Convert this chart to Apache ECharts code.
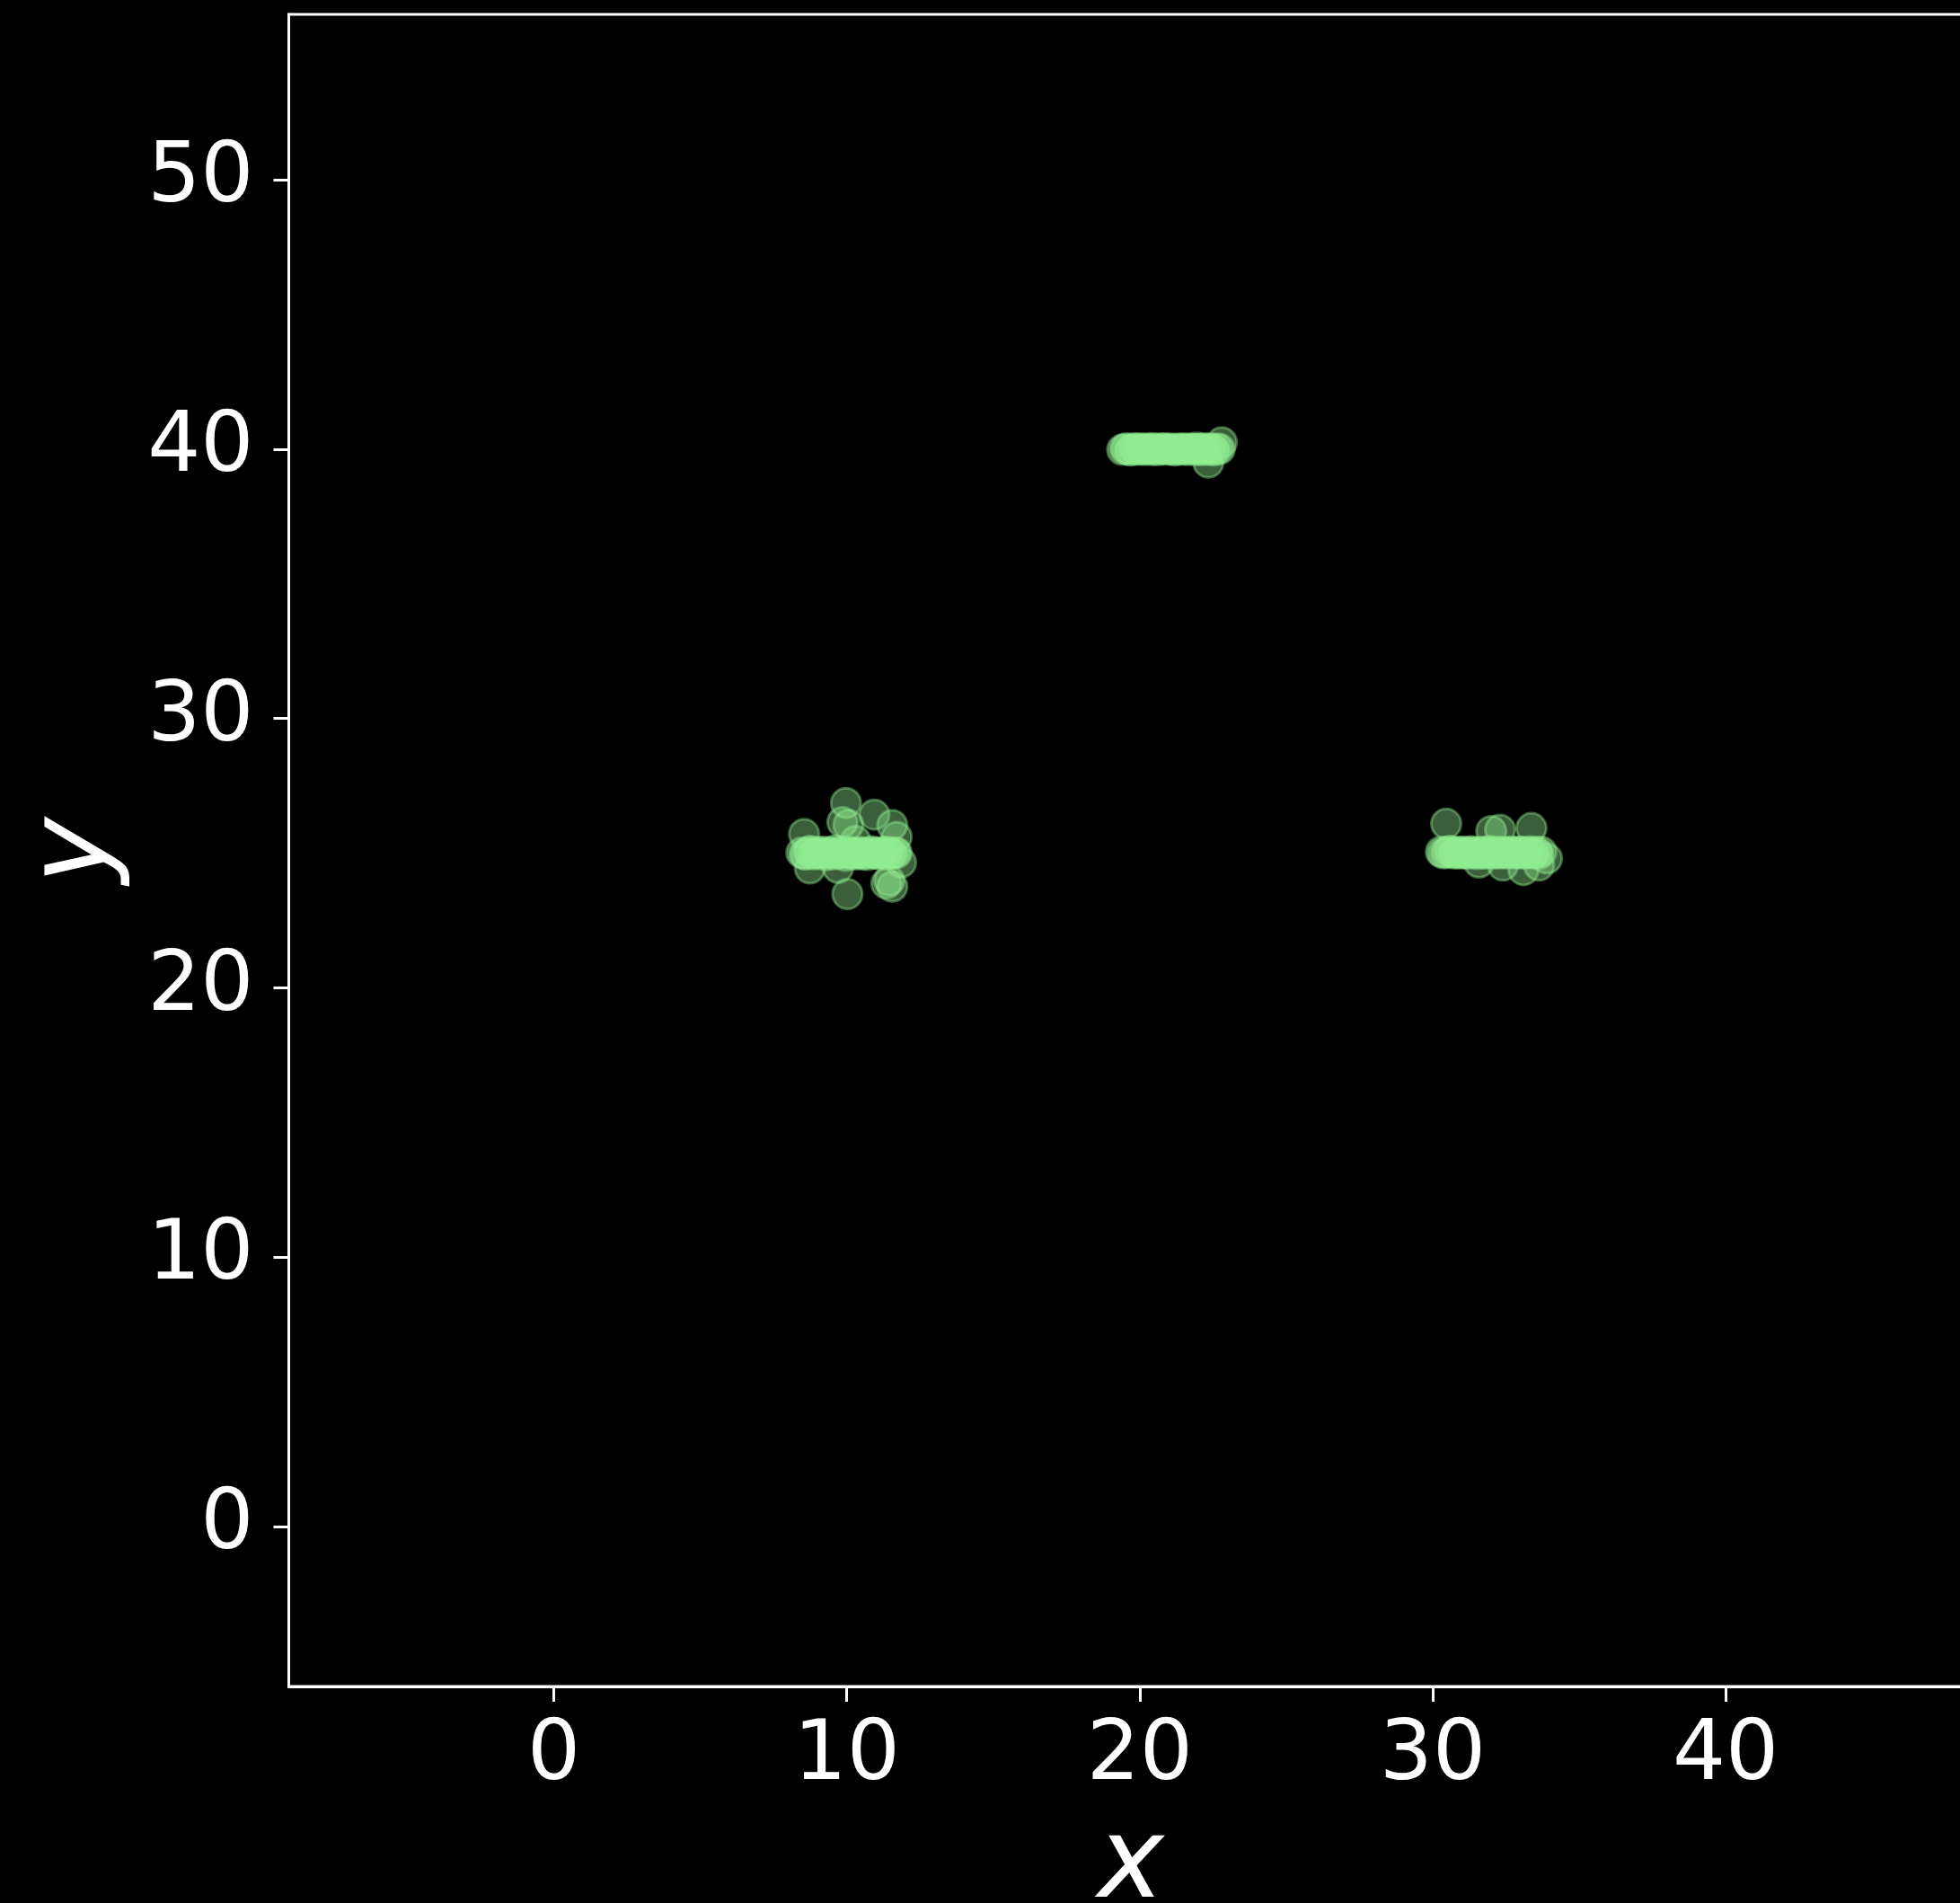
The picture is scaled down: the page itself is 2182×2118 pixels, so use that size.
<!DOCTYPE html>
<html>
<head>
<meta charset="utf-8">
<title>Clusters</title>
<script src="https://cdn.jsdelivr.net/npm/echarts@6/dist/echarts.min.js"></script>
<style>
  html, body { margin: 0; padding: 0; background: #000; }
  #chart { width: 2182px; height: 2118px; }
</style>
</head>
<body>
<div id="chart"></div>
<script>
// Axis ticks
const xTicks = [0, 10, 20, 30, 40];
const yTicks = [0, 10, 20, 30, 40, 50];
const xRange = [-9.05, 48.43];
const yRange = [-5.94, 56.14];

// Cluster around (10, 25)
const clusterA = [
  [8.45, 25.02], [8.55, 24.97], [8.6, 24.95], [8.7, 25.03], [8.75, 25.08], [8.85, 24.96], [8.9, 25.0], [9.0, 25.04], [9.05, 24.97],
  [9.15, 25.01], [9.2, 25.05], [9.3, 24.92], [9.4, 25.0], [9.45, 25.03], [9.55, 24.96], [9.6, 25.1], [9.7, 24.98],
  [9.8, 25.04], [9.85, 25.0], [9.95, 24.9], [10.0, 25.02], [10.05, 25.06], [10.15, 24.97], [10.2, 25.0], [10.3, 24.95],
  [10.4, 25.01], [10.45, 25.04], [10.55, 24.96], [10.6, 25.0], [10.7, 24.93], [10.8, 25.03], [10.85, 25.07], [10.95, 24.98], [11.0, 25.0],
  [11.1, 24.96], [11.2, 25.04], [11.25, 25.02], [11.35, 24.97], [11.4, 25.05], [11.5, 25.0], [11.55, 24.98], [11.65, 25.03], [11.7, 25.0],
  [9.97, 26.86], [10.94, 26.43], [11.55, 26.04], [9.85, 26.15], [10.05, 26.05],
  [8.54, 25.71], [10.02, 23.48], [8.74, 24.43], [9.7, 24.45], [11.45, 23.98],
  [11.35, 23.87], [11.55, 23.76], [11.85, 24.65], [11.7, 25.6], [10.3, 25.45]
];

// Cluster around (21, 40)
const clusterB = [
  [19.4, 39.98], [19.5, 40.01], [19.55, 40.02], [19.65, 39.97], [19.7, 39.95], [19.8, 40.03], [19.85, 40.0], [19.95, 39.98], [20.0, 40.03],
  [20.1, 40.0], [20.15, 39.97], [20.25, 40.02], [20.3, 40.0], [20.4, 39.97], [20.45, 40.04], [20.55, 40.0], [20.6, 39.96], [20.7, 40.02], [20.75, 40.0],
  [20.85, 40.03], [20.9, 39.98], [21.0, 40.0], [21.05, 40.02], [21.15, 39.98], [21.2, 39.95], [21.3, 40.02], [21.35, 40.0], [21.45, 39.98], [21.5, 40.03],
  [21.6, 40.0], [21.65, 39.97], [21.75, 40.02], [21.8, 40.0], [21.9, 39.97], [21.95, 40.05], [22.05, 40.0], [22.1, 39.96], [22.2, 40.03], [22.25, 40.0],
  [22.35, 39.97], [22.4, 40.02], [22.5, 40.0], [22.55, 39.95], [22.65, 40.02], [22.73, 40.0], [22.34, 39.5], [22.8, 40.25]
];

// Cluster around (32, 25)
const clusterC = [
  [30.28, 25.05], [30.35, 25.0], [30.45, 25.0], [30.52, 25.06], [30.6, 25.08], [30.7, 24.99], [30.75, 25.02], [30.85, 25.05], [30.9, 24.98],
  [31.0, 25.02], [31.05, 25.06], [31.15, 24.98], [31.2, 25.0], [31.3, 25.07], [31.35, 25.04], [31.45, 25.0], [31.5, 24.97], [31.6, 25.03], [31.65, 25.05],
  [31.75, 24.98], [31.8, 25.0], [31.9, 25.04], [31.95, 25.08], [32.05, 24.99], [32.1, 25.02], [32.2, 25.05], [32.25, 24.98], [32.35, 25.02], [32.4, 25.05],
  [32.5, 24.99], [32.55, 25.0], [32.65, 25.03], [32.7, 25.06], [32.8, 25.01], [32.85, 24.99], [32.95, 25.06], [33.0, 25.04], [33.1, 24.98], [33.15, 25.0],
  [33.25, 25.03], [33.3, 25.07], [33.4, 24.99], [33.45, 25.02], [33.55, 25.05], [33.6, 24.97], [33.71, 25.05],
  [30.46, 26.09], [32.0, 25.82], [32.3, 25.87], [33.37, 25.93], [31.58, 24.65],
  [32.4, 24.54], [33.1, 24.37], [33.63, 24.54], [33.9, 24.8]
];

const font = 'DejaVu Sans';
const white = '#ffffff';

const markerStyle = {
  color: '#90EE90',
  borderColor: '#90EE90',
  borderWidth: 3,
  opacity: 0.4
};

function scatter(data) {
  return {
    type: 'scatter',
    data: data,
    symbol: 'circle',
    symbolSize: 33,
    itemStyle: markerStyle,
    emphasis: { disabled: true },
    silent: true
  };
}

const chart = echarts.init(document.getElementById('chart'), null, { renderer: 'canvas' });
chart.setOption({
  backgroundColor: '#000000',
  animation: false,
  grid: {
    left: 321.5,
    top: 16,
    right: -14,
    bottom: 241,
    containLabel: false,
    outerBoundsMode: 'none',
    show: true,
    borderColor: white,
    borderWidth: 3,
    backgroundColor: 'transparent'
  },
  xAxis: {
    type: 'value',
    min: xRange[0],
    max: xRange[1],
    name: 'x',
    nameLocation: 'middle',
    nameGap: 139,
    nameTextStyle: { color: white, fontFamily: font, fontStyle: 'italic', fontSize: 125 },
    axisLine: { show: true, onZero: false, lineStyle: { color: white, width: 3 } },
    axisTick: { show: true, length: 17, lineStyle: { color: white, width: 3 }, customValues: xTicks },
    axisLabel: { color: white, fontFamily: font, fontSize: 93, margin: 32, customValues: xTicks },
    splitLine: { show: false }
  },
  yAxis: {
    type: 'value',
    min: yRange[0],
    max: yRange[1],
    name: 'y',
    nameLocation: 'middle',
    nameGap: 173,
    nameTextStyle: { color: white, fontFamily: font, fontStyle: 'italic', fontSize: 125 },
    axisLine: { show: true, onZero: false, lineStyle: { color: white, width: 3 } },
    axisTick: { show: true, length: 17, lineStyle: { color: white, width: 3 }, customValues: yTicks },
    axisLabel: { color: white, fontFamily: font, fontSize: 93, margin: 39, customValues: yTicks },
    splitLine: { show: false }
  },
  series: [scatter(clusterA), scatter(clusterB), scatter(clusterC)]
});
</script>
</body>
</html>
